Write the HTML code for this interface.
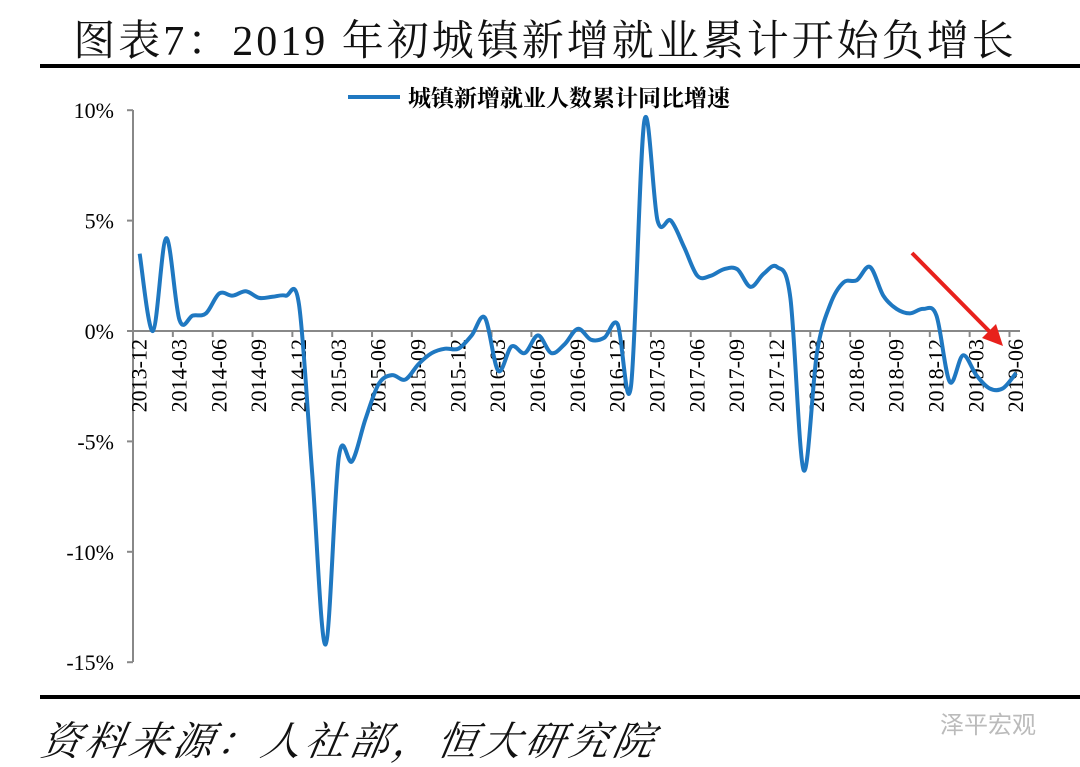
<!DOCTYPE html>
<html><head><meta charset="utf-8"><style>
body{margin:0;background:#fff;width:1080px;height:767px;overflow:hidden;position:relative;font-family:"Liberation Serif","Noto Serif CJK SC",serif}
.t{position:absolute;left:0;width:1090px;top:8px;text-align:center;font-size:42px;letter-spacing:3px;color:#111}
.s{position:absolute;left:42px;top:710px;font-size:40px;letter-spacing:4px;font-style:italic;color:#111;font-family:"Liberation Serif","Noto Serif CJK SC",serif;transform:skewX(-10deg)}
</style></head><body>
<div class="t">图表7：2019 年初城镇新增就业累计开始负增长</div>
<div style="position:absolute;left:40px;top:64px;width:1040px;height:4px;background:#000"></div>
<div style="position:absolute;left:40px;top:695px;width:1040px;height:4px;background:#000"></div>
<div class="s">资料来源：人社部，恒大研究院</div>
<div style="position:absolute;left:940px;top:705px;font-size:24px;color:#bbb;font-family:'Noto Sans CJK SC',sans-serif">泽平宏观</div>
<svg id="c" width="1080" height="767" style="position:absolute;left:0;top:0"></svg>
<script>
var d=[3.5,0,4.2,0.5,0.7,0.8,1.7,1.6,1.8,1.5,1.55,1.6,1.2,-6.5,-14.2,-5.7,-5.9,-4,-2.4,-2,-2.2,-1.5,-1,-0.8,-0.8,-0.2,0.6,-1.8,-0.7,-1.0,-0.2,-1.0,-0.6,0.1,-0.4,-0.3,0.3,-2.5,9.5,5.0,5.0,3.8,2.5,2.5,2.8,2.8,2.0,2.6,2.9,1.5,-6.3,-1.0,1.2,2.2,2.3,2.9,1.6,1.0,0.8,1.0,0.7,-2.3,-1.1,-2.0,-2.6,-2.6,-1.9];
var X=i=>133+13.28*(i+0.5),Y=v=>331-v*22.08;
var s='';
s+='<line x1="133" y1="110" x2="133" y2="662" stroke="#888" stroke-width="2"/>';
[10,5,0,-5,-10,-15].forEach(v=>{var y=Y(v);s+='<line x1="127" y1="'+y+'" x2="133" y2="'+y+'" stroke="#888" stroke-width="2"/><text x="114" y="'+(y+8)+'" text-anchor="end" font-size="22" font-family="Liberation Serif">'+v+'%</text>';});
s+='<line x1="133" y1="331" x2="1020" y2="331" stroke="#888" stroke-width="2"/>';
var labs=[];for(var k=0;k<=22;k++){var m=k*3;var yr=2013+Math.floor((11+m)/12),mo=((11+m)%12)+1;labs.push(yr+'-'+(mo<10?'0':'')+mo);}
for(var k=0;k<=22;k++){var tx=133+13.28*3*k;s+='<line x1="'+tx+'" y1="331" x2="'+tx+'" y2="337" stroke="#888" stroke-width="2"/>';var cx=X(3*k)+7;s+='<text transform="translate('+cx+',339) rotate(-90)" text-anchor="end" font-size="22" font-family="Liberation Serif">'+labs[k]+'</text>';}
var p='M'+X(0)+','+Y(d[0]);
for(var i=0;i<d.length-1;i++){var x0=X(Math.max(i-1,0)),y0=Y(d[Math.max(i-1,0)]),x1=X(i),y1=Y(d[i]),x2=X(i+1),y2=Y(d[i+1]),j=Math.min(i+2,d.length-1),x3=X(j),y3=Y(d[j]);var t=6;
p+=' C'+(x1+(x2-x0)/t)+','+(y1+(y2-y0)/t)+' '+(x2-(x3-x1)/t)+','+(y2-(y3-y1)/t)+' '+x2+','+y2;}
s+='<path d="'+p+'" fill="none" stroke="#1f78c1" stroke-width="4" stroke-linejoin="round"/>';
s+='<line x1="348" y1="97" x2="400" y2="97" stroke="#1f78c1" stroke-width="4"/><text x="408" y="106" font-size="23" font-weight="bold" font-family="Liberation Serif,Noto Serif CJK SC,serif">城镇新增就业人数累计同比增速</text>';
s+='<line x1="912" y1="253" x2="990" y2="332" stroke="#e8211c" stroke-width="4"/><polygon points="1003,346 982,338 996,324" fill="#e8211c"/>';
document.getElementById('c').innerHTML=s;
</script>
</body></html>
